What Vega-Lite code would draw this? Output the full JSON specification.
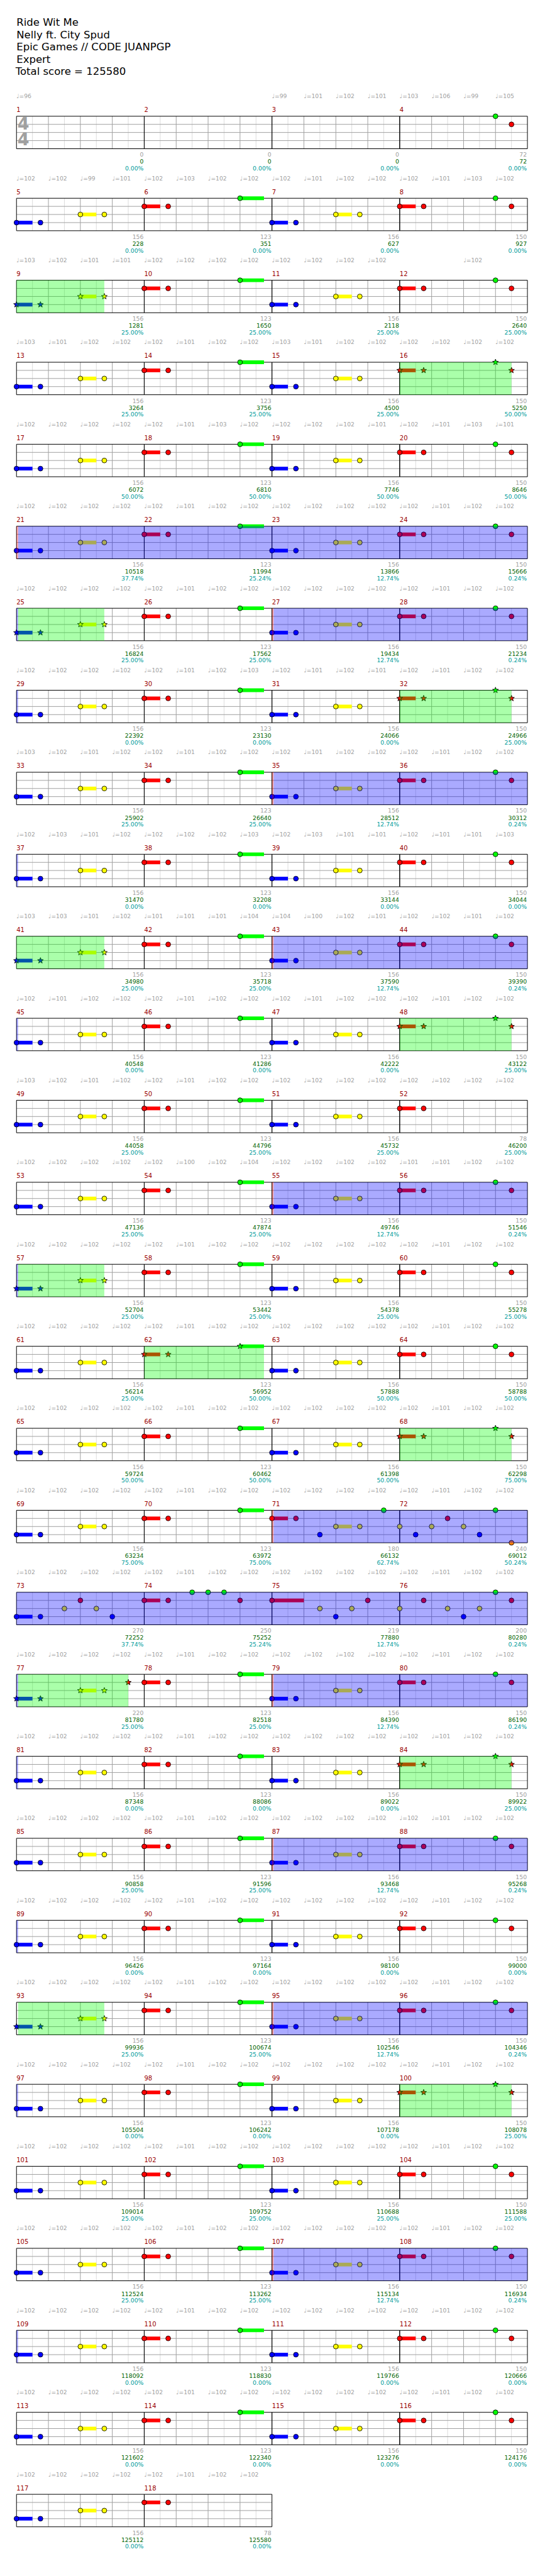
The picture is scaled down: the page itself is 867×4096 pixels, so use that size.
{
"$schema":"https://vega.github.io/schema/vega-lite/v6.json",
"autosize":{"type":"none"},
"padding":{"left":26.247,"top":184.83,"right":27.94,"bottom":78.24},
"width":812.813,
"height":3832.93,
"background":"white",
"config":{"view":{"stroke":null},"font":"DejaVu Sans"},
"data":{"values":[
{"row":1,"k":"title","b":0,"ln":0,"t":"Ride Wit Me"},
{"row":1,"k":"title","b":0,"ln":1,"t":"Nelly ft. City Spud"},
{"row":1,"k":"title","b":0,"ln":2,"t":"Epic Games // CODE JUANPGP"},
{"row":1,"k":"title","b":0,"ln":3,"t":"Expert"},
{"row":1,"k":"title","b":0,"ln":4,"t":"Total score = 125580"},
{"row":1,"k":"ts","b":0,"t":"4"},
{"row":1,"k":"m","b":0,"e":4,"n":"1","s1":"0","s2":"0","s3":"0.00%"},
{"row":1,"k":"m","b":4,"e":8,"n":"2","s1":"0","s2":"0","s3":"0.00%"},
{"row":1,"k":"m","b":8,"e":12,"n":"3","s1":"0","s2":"0","s3":"0.00%"},
{"row":1,"k":"m","b":12,"e":16,"n":"4","s1":"72","s2":"72","s3":"0.00%"},
{"row":2,"k":"m","b":0,"e":4,"n":"5","s1":"156","s2":"228","s3":"0.00%"},
{"row":2,"k":"m","b":4,"e":8,"n":"6","s1":"123","s2":"351","s3":"0.00%"},
{"row":2,"k":"m","b":8,"e":12,"n":"7","s1":"156","s2":"627","s3":"0.00%"},
{"row":2,"k":"m","b":12,"e":16,"n":"8","s1":"150","s2":"927","s3":"0.00%"},
{"row":3,"k":"m","b":0,"e":4,"n":"9","s1":"156","s2":"1281","s3":"25.00%"},
{"row":3,"k":"m","b":4,"e":8,"n":"10","s1":"123","s2":"1650","s3":"25.00%"},
{"row":3,"k":"m","b":8,"e":12,"n":"11","s1":"156","s2":"2118","s3":"25.00%"},
{"row":3,"k":"m","b":12,"e":16,"n":"12","s1":"150","s2":"2640","s3":"25.00%"},
{"row":4,"k":"m","b":0,"e":4,"n":"13","s1":"156","s2":"3264","s3":"25.00%"},
{"row":4,"k":"m","b":4,"e":8,"n":"14","s1":"123","s2":"3756","s3":"25.00%"},
{"row":4,"k":"m","b":8,"e":12,"n":"15","s1":"156","s2":"4500","s3":"25.00%"},
{"row":4,"k":"m","b":12,"e":16,"n":"16","s1":"150","s2":"5250","s3":"50.00%"},
{"row":5,"k":"m","b":0,"e":4,"n":"17","s1":"156","s2":"6072","s3":"50.00%"},
{"row":5,"k":"m","b":4,"e":8,"n":"18","s1":"123","s2":"6810","s3":"50.00%"},
{"row":5,"k":"m","b":8,"e":12,"n":"19","s1":"156","s2":"7746","s3":"50.00%"},
{"row":5,"k":"m","b":12,"e":16,"n":"20","s1":"150","s2":"8646","s3":"50.00%"},
{"row":6,"k":"m","b":0,"e":4,"n":"21","s1":"156","s2":"10518","s3":"37.74%"},
{"row":6,"k":"m","b":4,"e":8,"n":"22","s1":"123","s2":"11994","s3":"25.24%"},
{"row":6,"k":"m","b":8,"e":12,"n":"23","s1":"156","s2":"13866","s3":"12.74%"},
{"row":6,"k":"m","b":12,"e":16,"n":"24","s1":"150","s2":"15666","s3":"0.24%"},
{"row":7,"k":"m","b":0,"e":4,"n":"25","s1":"156","s2":"16824","s3":"25.00%"},
{"row":7,"k":"m","b":4,"e":8,"n":"26","s1":"123","s2":"17562","s3":"25.00%"},
{"row":7,"k":"m","b":8,"e":12,"n":"27","s1":"156","s2":"19434","s3":"12.74%"},
{"row":7,"k":"m","b":12,"e":16,"n":"28","s1":"150","s2":"21234","s3":"0.24%"},
{"row":8,"k":"m","b":0,"e":4,"n":"29","s1":"156","s2":"22392","s3":"0.00%"},
{"row":8,"k":"m","b":4,"e":8,"n":"30","s1":"123","s2":"23130","s3":"0.00%"},
{"row":8,"k":"m","b":8,"e":12,"n":"31","s1":"156","s2":"24066","s3":"0.00%"},
{"row":8,"k":"m","b":12,"e":16,"n":"32","s1":"150","s2":"24966","s3":"25.00%"},
{"row":9,"k":"m","b":0,"e":4,"n":"33","s1":"156","s2":"25902","s3":"25.00%"},
{"row":9,"k":"m","b":4,"e":8,"n":"34","s1":"123","s2":"26640","s3":"25.00%"},
{"row":9,"k":"m","b":8,"e":12,"n":"35","s1":"156","s2":"28512","s3":"12.74%"},
{"row":9,"k":"m","b":12,"e":16,"n":"36","s1":"150","s2":"30312","s3":"0.24%"},
{"row":10,"k":"m","b":0,"e":4,"n":"37","s1":"156","s2":"31470","s3":"0.00%"},
{"row":10,"k":"m","b":4,"e":8,"n":"38","s1":"123","s2":"32208","s3":"0.00%"},
{"row":10,"k":"m","b":8,"e":12,"n":"39","s1":"156","s2":"33144","s3":"0.00%"},
{"row":10,"k":"m","b":12,"e":16,"n":"40","s1":"150","s2":"34044","s3":"0.00%"},
{"row":11,"k":"m","b":0,"e":4,"n":"41","s1":"156","s2":"34980","s3":"25.00%"},
{"row":11,"k":"m","b":4,"e":8,"n":"42","s1":"123","s2":"35718","s3":"25.00%"},
{"row":11,"k":"m","b":8,"e":12,"n":"43","s1":"156","s2":"37590","s3":"12.74%"},
{"row":11,"k":"m","b":12,"e":16,"n":"44","s1":"150","s2":"39390","s3":"0.24%"},
{"row":12,"k":"m","b":0,"e":4,"n":"45","s1":"156","s2":"40548","s3":"0.00%"},
{"row":12,"k":"m","b":4,"e":8,"n":"46","s1":"123","s2":"41286","s3":"0.00%"},
{"row":12,"k":"m","b":8,"e":12,"n":"47","s1":"156","s2":"42222","s3":"0.00%"},
{"row":12,"k":"m","b":12,"e":16,"n":"48","s1":"150","s2":"43122","s3":"25.00%"},
{"row":13,"k":"m","b":0,"e":4,"n":"49","s1":"156","s2":"44058","s3":"25.00%"},
{"row":13,"k":"m","b":4,"e":8,"n":"50","s1":"123","s2":"44796","s3":"25.00%"},
{"row":13,"k":"m","b":8,"e":12,"n":"51","s1":"156","s2":"45732","s3":"25.00%"},
{"row":13,"k":"m","b":12,"e":16,"n":"52","s1":"78","s2":"46200","s3":"25.00%"},
{"row":14,"k":"m","b":0,"e":4,"n":"53","s1":"156","s2":"47136","s3":"25.00%"},
{"row":14,"k":"m","b":4,"e":8,"n":"54","s1":"123","s2":"47874","s3":"25.00%"},
{"row":14,"k":"m","b":8,"e":12,"n":"55","s1":"156","s2":"49746","s3":"12.74%"},
{"row":14,"k":"m","b":12,"e":16,"n":"56","s1":"150","s2":"51546","s3":"0.24%"},
{"row":15,"k":"m","b":0,"e":4,"n":"57","s1":"156","s2":"52704","s3":"25.00%"},
{"row":15,"k":"m","b":4,"e":8,"n":"58","s1":"123","s2":"53442","s3":"25.00%"},
{"row":15,"k":"m","b":8,"e":12,"n":"59","s1":"156","s2":"54378","s3":"25.00%"},
{"row":15,"k":"m","b":12,"e":16,"n":"60","s1":"150","s2":"55278","s3":"25.00%"},
{"row":16,"k":"m","b":0,"e":4,"n":"61","s1":"156","s2":"56214","s3":"25.00%"},
{"row":16,"k":"m","b":4,"e":8,"n":"62","s1":"123","s2":"56952","s3":"50.00%"},
{"row":16,"k":"m","b":8,"e":12,"n":"63","s1":"156","s2":"57888","s3":"50.00%"},
{"row":16,"k":"m","b":12,"e":16,"n":"64","s1":"150","s2":"58788","s3":"50.00%"},
{"row":17,"k":"m","b":0,"e":4,"n":"65","s1":"156","s2":"59724","s3":"50.00%"},
{"row":17,"k":"m","b":4,"e":8,"n":"66","s1":"123","s2":"60462","s3":"50.00%"},
{"row":17,"k":"m","b":8,"e":12,"n":"67","s1":"156","s2":"61398","s3":"50.00%"},
{"row":17,"k":"m","b":12,"e":16,"n":"68","s1":"150","s2":"62298","s3":"75.00%"},
{"row":18,"k":"m","b":0,"e":4,"n":"69","s1":"156","s2":"63234","s3":"75.00%"},
{"row":18,"k":"m","b":4,"e":8,"n":"70","s1":"123","s2":"63972","s3":"75.00%"},
{"row":18,"k":"m","b":8,"e":12,"n":"71","s1":"180","s2":"66132","s3":"62.74%"},
{"row":18,"k":"m","b":12,"e":16,"n":"72","s1":"240","s2":"69012","s3":"50.24%"},
{"row":19,"k":"m","b":0,"e":4,"n":"73","s1":"270","s2":"72252","s3":"37.74%"},
{"row":19,"k":"m","b":4,"e":8,"n":"74","s1":"250","s2":"75252","s3":"25.24%"},
{"row":19,"k":"m","b":8,"e":12,"n":"75","s1":"219","s2":"77880","s3":"12.74%"},
{"row":19,"k":"m","b":12,"e":16,"n":"76","s1":"200","s2":"80280","s3":"0.24%"},
{"row":20,"k":"m","b":0,"e":4,"n":"77","s1":"220","s2":"81780","s3":"25.00%"},
{"row":20,"k":"m","b":4,"e":8,"n":"78","s1":"123","s2":"82518","s3":"25.00%"},
{"row":20,"k":"m","b":8,"e":12,"n":"79","s1":"156","s2":"84390","s3":"12.74%"},
{"row":20,"k":"m","b":12,"e":16,"n":"80","s1":"150","s2":"86190","s3":"0.24%"},
{"row":21,"k":"m","b":0,"e":4,"n":"81","s1":"156","s2":"87348","s3":"0.00%"},
{"row":21,"k":"m","b":4,"e":8,"n":"82","s1":"123","s2":"88086","s3":"0.00%"},
{"row":21,"k":"m","b":8,"e":12,"n":"83","s1":"156","s2":"89022","s3":"0.00%"},
{"row":21,"k":"m","b":12,"e":16,"n":"84","s1":"150","s2":"89922","s3":"25.00%"},
{"row":22,"k":"m","b":0,"e":4,"n":"85","s1":"156","s2":"90858","s3":"25.00%"},
{"row":22,"k":"m","b":4,"e":8,"n":"86","s1":"123","s2":"91596","s3":"25.00%"},
{"row":22,"k":"m","b":8,"e":12,"n":"87","s1":"156","s2":"93468","s3":"12.74%"},
{"row":22,"k":"m","b":12,"e":16,"n":"88","s1":"150","s2":"95268","s3":"0.24%"},
{"row":23,"k":"m","b":0,"e":4,"n":"89","s1":"156","s2":"96426","s3":"0.00%"},
{"row":23,"k":"m","b":4,"e":8,"n":"90","s1":"123","s2":"97164","s3":"0.00%"},
{"row":23,"k":"m","b":8,"e":12,"n":"91","s1":"156","s2":"98100","s3":"0.00%"},
{"row":23,"k":"m","b":12,"e":16,"n":"92","s1":"150","s2":"99000","s3":"0.00%"},
{"row":24,"k":"m","b":0,"e":4,"n":"93","s1":"156","s2":"99936","s3":"25.00%"},
{"row":24,"k":"m","b":4,"e":8,"n":"94","s1":"123","s2":"100674","s3":"25.00%"},
{"row":24,"k":"m","b":8,"e":12,"n":"95","s1":"156","s2":"102546","s3":"12.74%"},
{"row":24,"k":"m","b":12,"e":16,"n":"96","s1":"150","s2":"104346","s3":"0.24%"},
{"row":25,"k":"m","b":0,"e":4,"n":"97","s1":"156","s2":"105504","s3":"0.00%"},
{"row":25,"k":"m","b":4,"e":8,"n":"98","s1":"123","s2":"106242","s3":"0.00%"},
{"row":25,"k":"m","b":8,"e":12,"n":"99","s1":"156","s2":"107178","s3":"0.00%"},
{"row":25,"k":"m","b":12,"e":16,"n":"100","s1":"150","s2":"108078","s3":"25.00%"},
{"row":26,"k":"m","b":0,"e":4,"n":"101","s1":"156","s2":"109014","s3":"25.00%"},
{"row":26,"k":"m","b":4,"e":8,"n":"102","s1":"123","s2":"109752","s3":"25.00%"},
{"row":26,"k":"m","b":8,"e":12,"n":"103","s1":"156","s2":"110688","s3":"25.00%"},
{"row":26,"k":"m","b":12,"e":16,"n":"104","s1":"150","s2":"111588","s3":"25.00%"},
{"row":27,"k":"m","b":0,"e":4,"n":"105","s1":"156","s2":"112524","s3":"25.00%"},
{"row":27,"k":"m","b":4,"e":8,"n":"106","s1":"123","s2":"113262","s3":"25.00%"},
{"row":27,"k":"m","b":8,"e":12,"n":"107","s1":"156","s2":"115134","s3":"12.74%"},
{"row":27,"k":"m","b":12,"e":16,"n":"108","s1":"150","s2":"116934","s3":"0.24%"},
{"row":28,"k":"m","b":0,"e":4,"n":"109","s1":"156","s2":"118092","s3":"0.00%"},
{"row":28,"k":"m","b":4,"e":8,"n":"110","s1":"123","s2":"118830","s3":"0.00%"},
{"row":28,"k":"m","b":8,"e":12,"n":"111","s1":"156","s2":"119766","s3":"0.00%"},
{"row":28,"k":"m","b":12,"e":16,"n":"112","s1":"150","s2":"120666","s3":"0.00%"},
{"row":29,"k":"m","b":0,"e":4,"n":"113","s1":"156","s2":"121602","s3":"0.00%"},
{"row":29,"k":"m","b":4,"e":8,"n":"114","s1":"123","s2":"122340","s3":"0.00%"},
{"row":29,"k":"m","b":8,"e":12,"n":"115","s1":"156","s2":"123276","s3":"0.00%"},
{"row":29,"k":"m","b":12,"e":16,"n":"116","s1":"150","s2":"124176","s3":"0.00%"},
{"row":30,"k":"m","b":0,"e":4,"n":"117","s1":"156","s2":"125112","s3":"0.00%"},
{"row":30,"k":"m","b":4,"e":8,"n":"118","s1":"78","s2":"125580","s3":"0.00%"},
{"row":1,"k":"tp","b":0,"t":"♩=96"},{"row":1,"k":"tp","b":8,"t":"♩=99"},{"row":1,"k":"tp","b":9,"t":"♩=101"},{"row":1,"k":"tp","b":10,"t":"♩=102"},{"row":1,"k":"tp","b":11,"t":"♩=101"},{"row":1,"k":"tp","b":12,"t":"♩=103"},{"row":1,"k":"tp","b":13,"t":"♩=106"},{"row":1,"k":"tp","b":14,"t":"♩=99"},{"row":1,"k":"tp","b":15,"t":"♩=105"},
{"row":2,"k":"tp","b":0,"t":"♩=102"},{"row":2,"k":"tp","b":1,"t":"♩=102"},{"row":2,"k":"tp","b":2,"t":"♩=99"},{"row":2,"k":"tp","b":3,"t":"♩=101"},{"row":2,"k":"tp","b":4,"t":"♩=102"},{"row":2,"k":"tp","b":5,"t":"♩=103"},{"row":2,"k":"tp","b":6,"t":"♩=102"},{"row":2,"k":"tp","b":7,"t":"♩=102"},{"row":2,"k":"tp","b":8,"t":"♩=102"},{"row":2,"k":"tp","b":9,"t":"♩=101"},{"row":2,"k":"tp","b":10,"t":"♩=102"},{"row":2,"k":"tp","b":11,"t":"♩=102"},{"row":2,"k":"tp","b":12,"t":"♩=102"},{"row":2,"k":"tp","b":13,"t":"♩=101"},{"row":2,"k":"tp","b":14,"t":"♩=103"},{"row":2,"k":"tp","b":15,"t":"♩=102"},
{"row":3,"k":"tp","b":0,"t":"♩=103"},{"row":3,"k":"tp","b":1,"t":"♩=102"},{"row":3,"k":"tp","b":2,"t":"♩=101"},{"row":3,"k":"tp","b":3,"t":"♩=101"},{"row":3,"k":"tp","b":4,"t":"♩=102"},{"row":3,"k":"tp","b":5,"t":"♩=102"},{"row":3,"k":"tp","b":6,"t":"♩=102"},{"row":3,"k":"tp","b":7,"t":"♩=102"},{"row":3,"k":"tp","b":8,"t":"♩=102"},{"row":3,"k":"tp","b":9,"t":"♩=102"},{"row":3,"k":"tp","b":10,"t":"♩=102"},{"row":3,"k":"tp","b":11,"t":"♩=102"},{"row":3,"k":"tp","b":14,"t":"♩=102"},
{"row":4,"k":"tp","b":0,"t":"♩=103"},{"row":4,"k":"tp","b":1,"t":"♩=101"},{"row":4,"k":"tp","b":2,"t":"♩=102"},{"row":4,"k":"tp","b":3,"t":"♩=102"},{"row":4,"k":"tp","b":4,"t":"♩=102"},{"row":4,"k":"tp","b":5,"t":"♩=101"},{"row":4,"k":"tp","b":6,"t":"♩=102"},{"row":4,"k":"tp","b":7,"t":"♩=102"},{"row":4,"k":"tp","b":8,"t":"♩=103"},{"row":4,"k":"tp","b":9,"t":"♩=101"},{"row":4,"k":"tp","b":10,"t":"♩=102"},{"row":4,"k":"tp","b":11,"t":"♩=102"},{"row":4,"k":"tp","b":12,"t":"♩=102"},{"row":4,"k":"tp","b":13,"t":"♩=102"},{"row":4,"k":"tp","b":14,"t":"♩=102"},{"row":4,"k":"tp","b":15,"t":"♩=102"},
{"row":5,"k":"tp","b":0,"t":"♩=102"},{"row":5,"k":"tp","b":1,"t":"♩=102"},{"row":5,"k":"tp","b":2,"t":"♩=102"},{"row":5,"k":"tp","b":3,"t":"♩=102"},{"row":5,"k":"tp","b":4,"t":"♩=102"},{"row":5,"k":"tp","b":5,"t":"♩=101"},{"row":5,"k":"tp","b":6,"t":"♩=103"},{"row":5,"k":"tp","b":7,"t":"♩=102"},{"row":5,"k":"tp","b":8,"t":"♩=102"},{"row":5,"k":"tp","b":9,"t":"♩=102"},{"row":5,"k":"tp","b":10,"t":"♩=102"},{"row":5,"k":"tp","b":11,"t":"♩=101"},{"row":5,"k":"tp","b":12,"t":"♩=102"},{"row":5,"k":"tp","b":13,"t":"♩=101"},{"row":5,"k":"tp","b":14,"t":"♩=103"},{"row":5,"k":"tp","b":15,"t":"♩=101"},
{"row":6,"k":"tp","b":0,"t":"♩=102"},{"row":6,"k":"tp","b":1,"t":"♩=102"},{"row":6,"k":"tp","b":2,"t":"♩=102"},{"row":6,"k":"tp","b":3,"t":"♩=102"},{"row":6,"k":"tp","b":4,"t":"♩=102"},{"row":6,"k":"tp","b":5,"t":"♩=101"},{"row":6,"k":"tp","b":6,"t":"♩=102"},{"row":6,"k":"tp","b":7,"t":"♩=102"},{"row":6,"k":"tp","b":8,"t":"♩=102"},{"row":6,"k":"tp","b":9,"t":"♩=102"},{"row":6,"k":"tp","b":10,"t":"♩=102"},{"row":6,"k":"tp","b":11,"t":"♩=102"},{"row":6,"k":"tp","b":12,"t":"♩=102"},{"row":6,"k":"tp","b":13,"t":"♩=101"},{"row":6,"k":"tp","b":14,"t":"♩=102"},{"row":6,"k":"tp","b":15,"t":"♩=102"},
{"row":7,"k":"tp","b":0,"t":"♩=102"},{"row":7,"k":"tp","b":1,"t":"♩=102"},{"row":7,"k":"tp","b":2,"t":"♩=102"},{"row":7,"k":"tp","b":3,"t":"♩=102"},{"row":7,"k":"tp","b":4,"t":"♩=102"},{"row":7,"k":"tp","b":5,"t":"♩=101"},{"row":7,"k":"tp","b":6,"t":"♩=102"},{"row":7,"k":"tp","b":7,"t":"♩=102"},{"row":7,"k":"tp","b":8,"t":"♩=102"},{"row":7,"k":"tp","b":9,"t":"♩=102"},{"row":7,"k":"tp","b":10,"t":"♩=102"},{"row":7,"k":"tp","b":11,"t":"♩=102"},{"row":7,"k":"tp","b":12,"t":"♩=102"},{"row":7,"k":"tp","b":13,"t":"♩=101"},{"row":7,"k":"tp","b":14,"t":"♩=102"},{"row":7,"k":"tp","b":15,"t":"♩=102"},
{"row":8,"k":"tp","b":0,"t":"♩=102"},{"row":8,"k":"tp","b":1,"t":"♩=102"},{"row":8,"k":"tp","b":2,"t":"♩=102"},{"row":8,"k":"tp","b":3,"t":"♩=102"},{"row":8,"k":"tp","b":4,"t":"♩=102"},{"row":8,"k":"tp","b":5,"t":"♩=101"},{"row":8,"k":"tp","b":6,"t":"♩=102"},{"row":8,"k":"tp","b":7,"t":"♩=103"},{"row":8,"k":"tp","b":8,"t":"♩=102"},{"row":8,"k":"tp","b":9,"t":"♩=101"},{"row":8,"k":"tp","b":10,"t":"♩=102"},{"row":8,"k":"tp","b":11,"t":"♩=101"},{"row":8,"k":"tp","b":12,"t":"♩=102"},{"row":8,"k":"tp","b":13,"t":"♩=101"},{"row":8,"k":"tp","b":14,"t":"♩=102"},{"row":8,"k":"tp","b":15,"t":"♩=102"},
{"row":9,"k":"tp","b":0,"t":"♩=103"},{"row":9,"k":"tp","b":1,"t":"♩=102"},{"row":9,"k":"tp","b":2,"t":"♩=101"},{"row":9,"k":"tp","b":3,"t":"♩=102"},{"row":9,"k":"tp","b":4,"t":"♩=102"},{"row":9,"k":"tp","b":5,"t":"♩=101"},{"row":9,"k":"tp","b":6,"t":"♩=102"},{"row":9,"k":"tp","b":7,"t":"♩=102"},{"row":9,"k":"tp","b":8,"t":"♩=102"},{"row":9,"k":"tp","b":9,"t":"♩=101"},{"row":9,"k":"tp","b":10,"t":"♩=102"},{"row":9,"k":"tp","b":11,"t":"♩=102"},{"row":9,"k":"tp","b":12,"t":"♩=102"},{"row":9,"k":"tp","b":13,"t":"♩=101"},{"row":9,"k":"tp","b":14,"t":"♩=102"},{"row":9,"k":"tp","b":15,"t":"♩=102"},
{"row":10,"k":"tp","b":0,"t":"♩=102"},{"row":10,"k":"tp","b":1,"t":"♩=103"},{"row":10,"k":"tp","b":2,"t":"♩=101"},{"row":10,"k":"tp","b":3,"t":"♩=102"},{"row":10,"k":"tp","b":4,"t":"♩=102"},{"row":10,"k":"tp","b":5,"t":"♩=102"},{"row":10,"k":"tp","b":6,"t":"♩=102"},{"row":10,"k":"tp","b":7,"t":"♩=103"},{"row":10,"k":"tp","b":8,"t":"♩=102"},{"row":10,"k":"tp","b":9,"t":"♩=103"},{"row":10,"k":"tp","b":10,"t":"♩=101"},{"row":10,"k":"tp","b":11,"t":"♩=101"},{"row":10,"k":"tp","b":12,"t":"♩=102"},{"row":10,"k":"tp","b":13,"t":"♩=101"},{"row":10,"k":"tp","b":14,"t":"♩=101"},{"row":10,"k":"tp","b":15,"t":"♩=103"},
{"row":11,"k":"tp","b":0,"t":"♩=103"},{"row":11,"k":"tp","b":1,"t":"♩=103"},{"row":11,"k":"tp","b":2,"t":"♩=101"},{"row":11,"k":"tp","b":3,"t":"♩=102"},{"row":11,"k":"tp","b":4,"t":"♩=101"},{"row":11,"k":"tp","b":5,"t":"♩=101"},{"row":11,"k":"tp","b":6,"t":"♩=101"},{"row":11,"k":"tp","b":7,"t":"♩=104"},{"row":11,"k":"tp","b":8,"t":"♩=104"},{"row":11,"k":"tp","b":9,"t":"♩=100"},{"row":11,"k":"tp","b":10,"t":"♩=102"},{"row":11,"k":"tp","b":11,"t":"♩=101"},{"row":11,"k":"tp","b":12,"t":"♩=102"},{"row":11,"k":"tp","b":13,"t":"♩=102"},{"row":11,"k":"tp","b":14,"t":"♩=101"},{"row":11,"k":"tp","b":15,"t":"♩=102"},
{"row":12,"k":"tp","b":0,"t":"♩=102"},{"row":12,"k":"tp","b":1,"t":"♩=101"},{"row":12,"k":"tp","b":2,"t":"♩=102"},{"row":12,"k":"tp","b":3,"t":"♩=102"},{"row":12,"k":"tp","b":4,"t":"♩=102"},{"row":12,"k":"tp","b":5,"t":"♩=101"},{"row":12,"k":"tp","b":6,"t":"♩=102"},{"row":12,"k":"tp","b":7,"t":"♩=102"},{"row":12,"k":"tp","b":8,"t":"♩=102"},{"row":12,"k":"tp","b":9,"t":"♩=101"},{"row":12,"k":"tp","b":10,"t":"♩=102"},{"row":12,"k":"tp","b":11,"t":"♩=102"},{"row":12,"k":"tp","b":12,"t":"♩=102"},{"row":12,"k":"tp","b":13,"t":"♩=101"},{"row":12,"k":"tp","b":14,"t":"♩=102"},{"row":12,"k":"tp","b":15,"t":"♩=102"},
{"row":13,"k":"tp","b":0,"t":"♩=103"},{"row":13,"k":"tp","b":1,"t":"♩=102"},{"row":13,"k":"tp","b":2,"t":"♩=101"},{"row":13,"k":"tp","b":3,"t":"♩=102"},{"row":13,"k":"tp","b":4,"t":"♩=102"},{"row":13,"k":"tp","b":5,"t":"♩=101"},{"row":13,"k":"tp","b":6,"t":"♩=102"},{"row":13,"k":"tp","b":7,"t":"♩=102"},{"row":13,"k":"tp","b":8,"t":"♩=102"},{"row":13,"k":"tp","b":9,"t":"♩=102"},{"row":13,"k":"tp","b":10,"t":"♩=102"},{"row":13,"k":"tp","b":11,"t":"♩=102"},{"row":13,"k":"tp","b":12,"t":"♩=102"},{"row":13,"k":"tp","b":13,"t":"♩=102"},{"row":13,"k":"tp","b":14,"t":"♩=102"},{"row":13,"k":"tp","b":15,"t":"♩=102"},
{"row":14,"k":"tp","b":0,"t":"♩=102"},{"row":14,"k":"tp","b":1,"t":"♩=102"},{"row":14,"k":"tp","b":2,"t":"♩=102"},{"row":14,"k":"tp","b":3,"t":"♩=102"},{"row":14,"k":"tp","b":4,"t":"♩=102"},{"row":14,"k":"tp","b":5,"t":"♩=100"},{"row":14,"k":"tp","b":6,"t":"♩=102"},{"row":14,"k":"tp","b":7,"t":"♩=104"},{"row":14,"k":"tp","b":8,"t":"♩=102"},{"row":14,"k":"tp","b":9,"t":"♩=102"},{"row":14,"k":"tp","b":10,"t":"♩=102"},{"row":14,"k":"tp","b":11,"t":"♩=102"},{"row":14,"k":"tp","b":12,"t":"♩=101"},{"row":14,"k":"tp","b":13,"t":"♩=101"},{"row":14,"k":"tp","b":14,"t":"♩=102"},{"row":14,"k":"tp","b":15,"t":"♩=102"},
{"row":15,"k":"tp","b":0,"t":"♩=102"},{"row":15,"k":"tp","b":1,"t":"♩=102"},{"row":15,"k":"tp","b":2,"t":"♩=102"},{"row":15,"k":"tp","b":3,"t":"♩=102"},{"row":15,"k":"tp","b":4,"t":"♩=102"},{"row":15,"k":"tp","b":5,"t":"♩=101"},{"row":15,"k":"tp","b":6,"t":"♩=102"},{"row":15,"k":"tp","b":7,"t":"♩=102"},{"row":15,"k":"tp","b":8,"t":"♩=102"},{"row":15,"k":"tp","b":9,"t":"♩=102"},{"row":15,"k":"tp","b":10,"t":"♩=102"},{"row":15,"k":"tp","b":11,"t":"♩=102"},{"row":15,"k":"tp","b":12,"t":"♩=102"},{"row":15,"k":"tp","b":13,"t":"♩=101"},{"row":15,"k":"tp","b":14,"t":"♩=102"},{"row":15,"k":"tp","b":15,"t":"♩=102"},
{"row":16,"k":"tp","b":0,"t":"♩=102"},{"row":16,"k":"tp","b":1,"t":"♩=102"},{"row":16,"k":"tp","b":2,"t":"♩=102"},{"row":16,"k":"tp","b":3,"t":"♩=102"},{"row":16,"k":"tp","b":4,"t":"♩=102"},{"row":16,"k":"tp","b":5,"t":"♩=101"},{"row":16,"k":"tp","b":6,"t":"♩=102"},{"row":16,"k":"tp","b":7,"t":"♩=102"},{"row":16,"k":"tp","b":8,"t":"♩=102"},{"row":16,"k":"tp","b":9,"t":"♩=102"},{"row":16,"k":"tp","b":10,"t":"♩=102"},{"row":16,"k":"tp","b":11,"t":"♩=102"},{"row":16,"k":"tp","b":12,"t":"♩=102"},{"row":16,"k":"tp","b":13,"t":"♩=101"},{"row":16,"k":"tp","b":14,"t":"♩=102"},{"row":16,"k":"tp","b":15,"t":"♩=102"},
{"row":17,"k":"tp","b":0,"t":"♩=102"},{"row":17,"k":"tp","b":1,"t":"♩=102"},{"row":17,"k":"tp","b":2,"t":"♩=102"},{"row":17,"k":"tp","b":3,"t":"♩=102"},{"row":17,"k":"tp","b":4,"t":"♩=102"},{"row":17,"k":"tp","b":5,"t":"♩=101"},{"row":17,"k":"tp","b":6,"t":"♩=102"},{"row":17,"k":"tp","b":7,"t":"♩=102"},{"row":17,"k":"tp","b":8,"t":"♩=102"},{"row":17,"k":"tp","b":9,"t":"♩=102"},{"row":17,"k":"tp","b":10,"t":"♩=102"},{"row":17,"k":"tp","b":11,"t":"♩=102"},{"row":17,"k":"tp","b":12,"t":"♩=102"},{"row":17,"k":"tp","b":13,"t":"♩=101"},{"row":17,"k":"tp","b":14,"t":"♩=102"},{"row":17,"k":"tp","b":15,"t":"♩=102"},
{"row":18,"k":"tp","b":0,"t":"♩=102"},{"row":18,"k":"tp","b":1,"t":"♩=102"},{"row":18,"k":"tp","b":2,"t":"♩=102"},{"row":18,"k":"tp","b":3,"t":"♩=102"},{"row":18,"k":"tp","b":4,"t":"♩=102"},{"row":18,"k":"tp","b":5,"t":"♩=101"},{"row":18,"k":"tp","b":6,"t":"♩=102"},{"row":18,"k":"tp","b":7,"t":"♩=102"},{"row":18,"k":"tp","b":8,"t":"♩=102"},{"row":18,"k":"tp","b":9,"t":"♩=102"},{"row":18,"k":"tp","b":10,"t":"♩=102"},{"row":18,"k":"tp","b":11,"t":"♩=102"},{"row":18,"k":"tp","b":12,"t":"♩=102"},{"row":18,"k":"tp","b":13,"t":"♩=101"},{"row":18,"k":"tp","b":14,"t":"♩=102"},{"row":18,"k":"tp","b":15,"t":"♩=102"},
{"row":19,"k":"tp","b":0,"t":"♩=102"},{"row":19,"k":"tp","b":1,"t":"♩=102"},{"row":19,"k":"tp","b":2,"t":"♩=102"},{"row":19,"k":"tp","b":3,"t":"♩=102"},{"row":19,"k":"tp","b":4,"t":"♩=102"},{"row":19,"k":"tp","b":5,"t":"♩=101"},{"row":19,"k":"tp","b":6,"t":"♩=102"},{"row":19,"k":"tp","b":7,"t":"♩=102"},{"row":19,"k":"tp","b":8,"t":"♩=102"},{"row":19,"k":"tp","b":9,"t":"♩=102"},{"row":19,"k":"tp","b":10,"t":"♩=102"},{"row":19,"k":"tp","b":11,"t":"♩=102"},{"row":19,"k":"tp","b":12,"t":"♩=102"},{"row":19,"k":"tp","b":13,"t":"♩=101"},{"row":19,"k":"tp","b":14,"t":"♩=102"},{"row":19,"k":"tp","b":15,"t":"♩=102"},
{"row":20,"k":"tp","b":0,"t":"♩=102"},{"row":20,"k":"tp","b":1,"t":"♩=102"},{"row":20,"k":"tp","b":2,"t":"♩=102"},{"row":20,"k":"tp","b":3,"t":"♩=102"},{"row":20,"k":"tp","b":4,"t":"♩=102"},{"row":20,"k":"tp","b":5,"t":"♩=101"},{"row":20,"k":"tp","b":6,"t":"♩=102"},{"row":20,"k":"tp","b":7,"t":"♩=102"},{"row":20,"k":"tp","b":8,"t":"♩=102"},{"row":20,"k":"tp","b":9,"t":"♩=102"},{"row":20,"k":"tp","b":10,"t":"♩=102"},{"row":20,"k":"tp","b":11,"t":"♩=102"},{"row":20,"k":"tp","b":12,"t":"♩=102"},{"row":20,"k":"tp","b":13,"t":"♩=101"},{"row":20,"k":"tp","b":14,"t":"♩=102"},{"row":20,"k":"tp","b":15,"t":"♩=102"},
{"row":21,"k":"tp","b":0,"t":"♩=102"},{"row":21,"k":"tp","b":1,"t":"♩=102"},{"row":21,"k":"tp","b":2,"t":"♩=102"},{"row":21,"k":"tp","b":3,"t":"♩=102"},{"row":21,"k":"tp","b":4,"t":"♩=102"},{"row":21,"k":"tp","b":5,"t":"♩=101"},{"row":21,"k":"tp","b":6,"t":"♩=102"},{"row":21,"k":"tp","b":7,"t":"♩=102"},{"row":21,"k":"tp","b":8,"t":"♩=102"},{"row":21,"k":"tp","b":9,"t":"♩=102"},{"row":21,"k":"tp","b":10,"t":"♩=102"},{"row":21,"k":"tp","b":11,"t":"♩=102"},{"row":21,"k":"tp","b":12,"t":"♩=102"},{"row":21,"k":"tp","b":13,"t":"♩=101"},{"row":21,"k":"tp","b":14,"t":"♩=102"},{"row":21,"k":"tp","b":15,"t":"♩=102"},
{"row":22,"k":"tp","b":0,"t":"♩=102"},{"row":22,"k":"tp","b":1,"t":"♩=102"},{"row":22,"k":"tp","b":2,"t":"♩=102"},{"row":22,"k":"tp","b":3,"t":"♩=102"},{"row":22,"k":"tp","b":4,"t":"♩=102"},{"row":22,"k":"tp","b":5,"t":"♩=101"},{"row":22,"k":"tp","b":6,"t":"♩=102"},{"row":22,"k":"tp","b":7,"t":"♩=102"},{"row":22,"k":"tp","b":8,"t":"♩=102"},{"row":22,"k":"tp","b":9,"t":"♩=102"},{"row":22,"k":"tp","b":10,"t":"♩=102"},{"row":22,"k":"tp","b":11,"t":"♩=102"},{"row":22,"k":"tp","b":12,"t":"♩=102"},{"row":22,"k":"tp","b":13,"t":"♩=101"},{"row":22,"k":"tp","b":14,"t":"♩=102"},{"row":22,"k":"tp","b":15,"t":"♩=102"},
{"row":23,"k":"tp","b":0,"t":"♩=102"},{"row":23,"k":"tp","b":1,"t":"♩=102"},{"row":23,"k":"tp","b":2,"t":"♩=102"},{"row":23,"k":"tp","b":3,"t":"♩=102"},{"row":23,"k":"tp","b":4,"t":"♩=102"},{"row":23,"k":"tp","b":5,"t":"♩=101"},{"row":23,"k":"tp","b":6,"t":"♩=102"},{"row":23,"k":"tp","b":7,"t":"♩=102"},{"row":23,"k":"tp","b":8,"t":"♩=102"},{"row":23,"k":"tp","b":9,"t":"♩=102"},{"row":23,"k":"tp","b":10,"t":"♩=102"},{"row":23,"k":"tp","b":11,"t":"♩=102"},{"row":23,"k":"tp","b":12,"t":"♩=102"},{"row":23,"k":"tp","b":13,"t":"♩=101"},{"row":23,"k":"tp","b":14,"t":"♩=102"},{"row":23,"k":"tp","b":15,"t":"♩=102"},
{"row":24,"k":"tp","b":0,"t":"♩=102"},{"row":24,"k":"tp","b":1,"t":"♩=102"},{"row":24,"k":"tp","b":2,"t":"♩=102"},{"row":24,"k":"tp","b":3,"t":"♩=102"},{"row":24,"k":"tp","b":4,"t":"♩=102"},{"row":24,"k":"tp","b":5,"t":"♩=101"},{"row":24,"k":"tp","b":6,"t":"♩=102"},{"row":24,"k":"tp","b":7,"t":"♩=102"},{"row":24,"k":"tp","b":8,"t":"♩=102"},{"row":24,"k":"tp","b":9,"t":"♩=102"},{"row":24,"k":"tp","b":10,"t":"♩=102"},{"row":24,"k":"tp","b":11,"t":"♩=102"},{"row":24,"k":"tp","b":12,"t":"♩=102"},{"row":24,"k":"tp","b":13,"t":"♩=101"},{"row":24,"k":"tp","b":14,"t":"♩=102"},{"row":24,"k":"tp","b":15,"t":"♩=102"},
{"row":25,"k":"tp","b":0,"t":"♩=102"},{"row":25,"k":"tp","b":1,"t":"♩=102"},{"row":25,"k":"tp","b":2,"t":"♩=102"},{"row":25,"k":"tp","b":3,"t":"♩=102"},{"row":25,"k":"tp","b":4,"t":"♩=102"},{"row":25,"k":"tp","b":5,"t":"♩=101"},{"row":25,"k":"tp","b":6,"t":"♩=102"},{"row":25,"k":"tp","b":7,"t":"♩=102"},{"row":25,"k":"tp","b":8,"t":"♩=102"},{"row":25,"k":"tp","b":9,"t":"♩=102"},{"row":25,"k":"tp","b":10,"t":"♩=102"},{"row":25,"k":"tp","b":11,"t":"♩=102"},{"row":25,"k":"tp","b":12,"t":"♩=102"},{"row":25,"k":"tp","b":13,"t":"♩=101"},{"row":25,"k":"tp","b":14,"t":"♩=102"},{"row":25,"k":"tp","b":15,"t":"♩=102"},
{"row":26,"k":"tp","b":0,"t":"♩=102"},{"row":26,"k":"tp","b":1,"t":"♩=102"},{"row":26,"k":"tp","b":2,"t":"♩=102"},{"row":26,"k":"tp","b":3,"t":"♩=102"},{"row":26,"k":"tp","b":4,"t":"♩=102"},{"row":26,"k":"tp","b":5,"t":"♩=101"},{"row":26,"k":"tp","b":6,"t":"♩=102"},{"row":26,"k":"tp","b":7,"t":"♩=102"},{"row":26,"k":"tp","b":8,"t":"♩=102"},{"row":26,"k":"tp","b":9,"t":"♩=102"},{"row":26,"k":"tp","b":10,"t":"♩=102"},{"row":26,"k":"tp","b":11,"t":"♩=102"},{"row":26,"k":"tp","b":12,"t":"♩=102"},{"row":26,"k":"tp","b":13,"t":"♩=101"},{"row":26,"k":"tp","b":14,"t":"♩=102"},{"row":26,"k":"tp","b":15,"t":"♩=102"},
{"row":27,"k":"tp","b":0,"t":"♩=102"},{"row":27,"k":"tp","b":1,"t":"♩=102"},{"row":27,"k":"tp","b":2,"t":"♩=102"},{"row":27,"k":"tp","b":3,"t":"♩=102"},{"row":27,"k":"tp","b":4,"t":"♩=102"},{"row":27,"k":"tp","b":5,"t":"♩=101"},{"row":27,"k":"tp","b":6,"t":"♩=102"},{"row":27,"k":"tp","b":7,"t":"♩=102"},{"row":27,"k":"tp","b":8,"t":"♩=102"},{"row":27,"k":"tp","b":9,"t":"♩=102"},{"row":27,"k":"tp","b":10,"t":"♩=102"},{"row":27,"k":"tp","b":11,"t":"♩=102"},{"row":27,"k":"tp","b":12,"t":"♩=102"},{"row":27,"k":"tp","b":13,"t":"♩=101"},{"row":27,"k":"tp","b":14,"t":"♩=102"},{"row":27,"k":"tp","b":15,"t":"♩=102"},
{"row":28,"k":"tp","b":0,"t":"♩=102"},{"row":28,"k":"tp","b":1,"t":"♩=102"},{"row":28,"k":"tp","b":2,"t":"♩=102"},{"row":28,"k":"tp","b":3,"t":"♩=102"},{"row":28,"k":"tp","b":4,"t":"♩=102"},{"row":28,"k":"tp","b":5,"t":"♩=101"},{"row":28,"k":"tp","b":6,"t":"♩=102"},{"row":28,"k":"tp","b":7,"t":"♩=102"},{"row":28,"k":"tp","b":8,"t":"♩=102"},{"row":28,"k":"tp","b":9,"t":"♩=102"},{"row":28,"k":"tp","b":10,"t":"♩=102"},{"row":28,"k":"tp","b":11,"t":"♩=102"},{"row":28,"k":"tp","b":12,"t":"♩=102"},{"row":28,"k":"tp","b":13,"t":"♩=101"},{"row":28,"k":"tp","b":14,"t":"♩=102"},{"row":28,"k":"tp","b":15,"t":"♩=102"},
{"row":29,"k":"tp","b":0,"t":"♩=102"},{"row":29,"k":"tp","b":1,"t":"♩=102"},{"row":29,"k":"tp","b":2,"t":"♩=102"},{"row":29,"k":"tp","b":3,"t":"♩=102"},{"row":29,"k":"tp","b":4,"t":"♩=102"},{"row":29,"k":"tp","b":5,"t":"♩=101"},{"row":29,"k":"tp","b":6,"t":"♩=102"},{"row":29,"k":"tp","b":7,"t":"♩=102"},{"row":29,"k":"tp","b":8,"t":"♩=102"},{"row":29,"k":"tp","b":9,"t":"♩=102"},{"row":29,"k":"tp","b":10,"t":"♩=102"},{"row":29,"k":"tp","b":11,"t":"♩=102"},{"row":29,"k":"tp","b":12,"t":"♩=102"},{"row":29,"k":"tp","b":13,"t":"♩=101"},{"row":29,"k":"tp","b":14,"t":"♩=102"},{"row":29,"k":"tp","b":15,"t":"♩=102"},
{"row":30,"k":"tp","b":0,"t":"♩=102"},{"row":30,"k":"tp","b":1,"t":"♩=102"},{"row":30,"k":"tp","b":2,"t":"♩=102"},{"row":30,"k":"tp","b":3,"t":"♩=102"},{"row":30,"k":"tp","b":4,"t":"♩=102"},{"row":30,"k":"tp","b":5,"t":"♩=101"},{"row":30,"k":"tp","b":6,"t":"♩=102"},{"row":30,"k":"tp","b":7,"t":"♩=102"},
{"row":1,"k":"n","b":15,"l":0},{"row":1,"k":"n","b":15.5,"l":1},
{"row":2,"k":"n","b":0,"l":3,"e":0.5},{"row":2,"k":"n","b":0.75,"l":3},{"row":2,"k":"n","b":2,"l":2,"e":2.5},{"row":2,"k":"n","b":2.75,"l":2},{"row":2,"k":"n","b":4,"l":1,"e":4.5},{"row":2,"k":"n","b":4.75,"l":1},{"row":2,"k":"n","b":7,"l":0,"e":7.75},{"row":2,"k":"n","b":8,"l":3,"e":8.5},{"row":2,"k":"n","b":8.75,"l":3},{"row":2,"k":"n","b":10,"l":2,"e":10.5},{"row":2,"k":"n","b":10.75,"l":2},{"row":2,"k":"n","b":12,"l":1,"e":12.5},{"row":2,"k":"n","b":12.75,"l":1},{"row":2,"k":"n","b":15,"l":0},{"row":2,"k":"n","b":15.5,"l":1},
{"row":3,"k":"n","s":1,"b":0,"l":3,"e":0.5},{"row":3,"k":"n","s":1,"b":0.75,"l":3},{"row":3,"k":"n","s":1,"b":2,"l":2,"e":2.5},{"row":3,"k":"n","s":1,"b":2.75,"l":2},{"row":3,"k":"n","b":4,"l":1,"e":4.5},{"row":3,"k":"n","b":4.75,"l":1},{"row":3,"k":"n","b":7,"l":0,"e":7.75},{"row":3,"k":"n","b":8,"l":3,"e":8.5},{"row":3,"k":"n","b":8.75,"l":3},{"row":3,"k":"n","b":10,"l":2,"e":10.5},{"row":3,"k":"n","b":10.75,"l":2},{"row":3,"k":"n","b":12,"l":1,"e":12.5},{"row":3,"k":"n","b":12.75,"l":1},{"row":3,"k":"n","b":15,"l":0},{"row":3,"k":"n","b":15.5,"l":1},
{"row":3,"k":"sp","b":0,"e":2.75},
{"row":4,"k":"n","b":0,"l":3,"e":0.5},{"row":4,"k":"n","b":0.75,"l":3},{"row":4,"k":"n","b":2,"l":2,"e":2.5},{"row":4,"k":"n","b":2.75,"l":2},{"row":4,"k":"n","b":4,"l":1,"e":4.5},{"row":4,"k":"n","b":4.75,"l":1},{"row":4,"k":"n","b":7,"l":0,"e":7.75},{"row":4,"k":"n","b":8,"l":3,"e":8.5},{"row":4,"k":"n","b":8.75,"l":3},{"row":4,"k":"n","b":10,"l":2,"e":10.5},{"row":4,"k":"n","b":10.75,"l":2},{"row":4,"k":"n","s":1,"b":12,"l":1,"e":12.5},{"row":4,"k":"n","s":1,"b":12.75,"l":1},{"row":4,"k":"n","s":1,"b":15,"l":0},{"row":4,"k":"n","s":1,"b":15.5,"l":1},
{"row":4,"k":"sp","b":12,"e":15.5},
{"row":5,"k":"n","b":0,"l":3,"e":0.5},{"row":5,"k":"n","b":0.75,"l":3},{"row":5,"k":"n","b":2,"l":2,"e":2.5},{"row":5,"k":"n","b":2.75,"l":2},{"row":5,"k":"n","b":4,"l":1,"e":4.5},{"row":5,"k":"n","b":4.75,"l":1},{"row":5,"k":"n","b":7,"l":0,"e":7.75},{"row":5,"k":"n","b":8,"l":3,"e":8.5},{"row":5,"k":"n","b":8.75,"l":3},{"row":5,"k":"n","b":10,"l":2,"e":10.5},{"row":5,"k":"n","b":10.75,"l":2},{"row":5,"k":"n","b":12,"l":1,"e":12.5},{"row":5,"k":"n","b":12.75,"l":1},{"row":5,"k":"n","b":15,"l":0},{"row":5,"k":"n","b":15.5,"l":1},
{"row":6,"k":"n","b":0,"l":3,"e":0.5},{"row":6,"k":"n","b":0.75,"l":3},{"row":6,"k":"n","b":2,"l":2,"e":2.5},{"row":6,"k":"n","b":2.75,"l":2},{"row":6,"k":"n","b":4,"l":1,"e":4.5},{"row":6,"k":"n","b":4.75,"l":1},{"row":6,"k":"n","b":7,"l":0,"e":7.75},{"row":6,"k":"n","b":8,"l":3,"e":8.5},{"row":6,"k":"n","b":8.75,"l":3},{"row":6,"k":"n","b":10,"l":2,"e":10.5},{"row":6,"k":"n","b":10.75,"l":2},{"row":6,"k":"n","b":12,"l":1,"e":12.5},{"row":6,"k":"n","b":12.75,"l":1},{"row":6,"k":"n","b":15,"l":0},{"row":6,"k":"n","b":15.5,"l":1},
{"row":6,"k":"odm","b":0,"e":0.05},{"row":6,"k":"od","b":0.05,"e":16},{"row":7,"k":"od","b":0,"e":0.05},
{"row":7,"k":"n","s":1,"b":0,"l":3,"e":0.5},{"row":7,"k":"n","s":1,"b":0.75,"l":3},{"row":7,"k":"n","s":1,"b":2,"l":2,"e":2.5},{"row":7,"k":"n","s":1,"b":2.75,"l":2},{"row":7,"k":"n","b":4,"l":1,"e":4.5},{"row":7,"k":"n","b":4.75,"l":1},{"row":7,"k":"n","b":7,"l":0,"e":7.75},{"row":7,"k":"n","b":8,"l":3,"e":8.5},{"row":7,"k":"n","b":8.75,"l":3},{"row":7,"k":"n","b":10,"l":2,"e":10.5},{"row":7,"k":"n","b":10.75,"l":2},{"row":7,"k":"n","b":12,"l":1,"e":12.5},{"row":7,"k":"n","b":12.75,"l":1},{"row":7,"k":"n","b":15,"l":0},{"row":7,"k":"n","b":15.5,"l":1},
{"row":7,"k":"sp","b":0.05,"e":2.75},{"row":7,"k":"odm","b":8,"e":8.05},{"row":7,"k":"od","b":8.05,"e":16},{"row":8,"k":"od","b":0,"e":0.05},
{"row":8,"k":"n","b":0,"l":3,"e":0.5},{"row":8,"k":"n","b":0.75,"l":3},{"row":8,"k":"n","b":2,"l":2,"e":2.5},{"row":8,"k":"n","b":2.75,"l":2},{"row":8,"k":"n","b":4,"l":1,"e":4.5},{"row":8,"k":"n","b":4.75,"l":1},{"row":8,"k":"n","b":7,"l":0,"e":7.75},{"row":8,"k":"n","b":8,"l":3,"e":8.5},{"row":8,"k":"n","b":8.75,"l":3},{"row":8,"k":"n","b":10,"l":2,"e":10.5},{"row":8,"k":"n","b":10.75,"l":2},{"row":8,"k":"n","s":1,"b":12,"l":1,"e":12.5},{"row":8,"k":"n","s":1,"b":12.75,"l":1},{"row":8,"k":"n","s":1,"b":15,"l":0},{"row":8,"k":"n","s":1,"b":15.5,"l":1},
{"row":8,"k":"sp","b":12,"e":15.5},
{"row":9,"k":"n","b":0,"l":3,"e":0.5},{"row":9,"k":"n","b":0.75,"l":3},{"row":9,"k":"n","b":2,"l":2,"e":2.5},{"row":9,"k":"n","b":2.75,"l":2},{"row":9,"k":"n","b":4,"l":1,"e":4.5},{"row":9,"k":"n","b":4.75,"l":1},{"row":9,"k":"n","b":7,"l":0,"e":7.75},{"row":9,"k":"n","b":8,"l":3,"e":8.5},{"row":9,"k":"n","b":8.75,"l":3},{"row":9,"k":"n","b":10,"l":2,"e":10.5},{"row":9,"k":"n","b":10.75,"l":2},{"row":9,"k":"n","b":12,"l":1,"e":12.5},{"row":9,"k":"n","b":12.75,"l":1},{"row":9,"k":"n","b":15,"l":0},{"row":9,"k":"n","b":15.5,"l":1},
{"row":9,"k":"odm","b":8,"e":8.05},{"row":9,"k":"od","b":8.05,"e":16},{"row":10,"k":"od","b":0,"e":0.05},
{"row":10,"k":"n","b":0,"l":3,"e":0.5},{"row":10,"k":"n","b":0.75,"l":3},{"row":10,"k":"n","b":2,"l":2,"e":2.5},{"row":10,"k":"n","b":2.75,"l":2},{"row":10,"k":"n","b":4,"l":1,"e":4.5},{"row":10,"k":"n","b":4.75,"l":1},{"row":10,"k":"n","b":7,"l":0,"e":7.75},{"row":10,"k":"n","b":8,"l":3,"e":8.5},{"row":10,"k":"n","b":8.75,"l":3},{"row":10,"k":"n","b":10,"l":2,"e":10.5},{"row":10,"k":"n","b":10.75,"l":2},{"row":10,"k":"n","b":12,"l":1,"e":12.5},{"row":10,"k":"n","b":12.75,"l":1},{"row":10,"k":"n","b":15,"l":0},{"row":10,"k":"n","b":15.5,"l":1},
{"row":11,"k":"n","s":1,"b":0,"l":3,"e":0.5},{"row":11,"k":"n","s":1,"b":0.75,"l":3},{"row":11,"k":"n","s":1,"b":2,"l":2,"e":2.5},{"row":11,"k":"n","s":1,"b":2.75,"l":2},{"row":11,"k":"n","b":4,"l":1,"e":4.5},{"row":11,"k":"n","b":4.75,"l":1},{"row":11,"k":"n","b":7,"l":0,"e":7.75},{"row":11,"k":"n","b":8,"l":3,"e":8.5},{"row":11,"k":"n","b":8.75,"l":3},{"row":11,"k":"n","b":10,"l":2,"e":10.5},{"row":11,"k":"n","b":10.75,"l":2},{"row":11,"k":"n","b":12,"l":1,"e":12.5},{"row":11,"k":"n","b":12.75,"l":1},{"row":11,"k":"n","b":15,"l":0},{"row":11,"k":"n","b":15.5,"l":1},
{"row":11,"k":"sp","b":0,"e":2.75},{"row":11,"k":"odm","b":8,"e":8.05},{"row":11,"k":"od","b":8.05,"e":16},{"row":12,"k":"od","b":0,"e":0.05},
{"row":12,"k":"n","b":0,"l":3,"e":0.5},{"row":12,"k":"n","b":0.75,"l":3},{"row":12,"k":"n","b":2,"l":2,"e":2.5},{"row":12,"k":"n","b":2.75,"l":2},{"row":12,"k":"n","b":4,"l":1,"e":4.5},{"row":12,"k":"n","b":4.75,"l":1},{"row":12,"k":"n","b":7,"l":0,"e":7.75},{"row":12,"k":"n","b":8,"l":3,"e":8.5},{"row":12,"k":"n","b":8.75,"l":3},{"row":12,"k":"n","b":10,"l":2,"e":10.5},{"row":12,"k":"n","b":10.75,"l":2},{"row":12,"k":"n","s":1,"b":12,"l":1,"e":12.5},{"row":12,"k":"n","s":1,"b":12.75,"l":1},{"row":12,"k":"n","s":1,"b":15,"l":0},{"row":12,"k":"n","s":1,"b":15.5,"l":1},
{"row":12,"k":"sp","b":12,"e":15.5},
{"row":13,"k":"n","b":0,"l":3,"e":0.5},{"row":13,"k":"n","b":0.75,"l":3},{"row":13,"k":"n","b":2,"l":2,"e":2.5},{"row":13,"k":"n","b":2.75,"l":2},{"row":13,"k":"n","b":4,"l":1,"e":4.5},{"row":13,"k":"n","b":4.75,"l":1},{"row":13,"k":"n","b":7,"l":0,"e":7.75},{"row":13,"k":"n","b":8,"l":3,"e":8.5},{"row":13,"k":"n","b":8.75,"l":3},{"row":13,"k":"n","b":10,"l":2,"e":10.5},{"row":13,"k":"n","b":10.75,"l":2},{"row":13,"k":"n","b":12,"l":1,"e":12.5},{"row":13,"k":"n","b":12.75,"l":1},
{"row":14,"k":"n","b":0,"l":3,"e":0.5},{"row":14,"k":"n","b":0.75,"l":3},{"row":14,"k":"n","b":2,"l":2,"e":2.5},{"row":14,"k":"n","b":2.75,"l":2},{"row":14,"k":"n","b":4,"l":1,"e":4.5},{"row":14,"k":"n","b":4.75,"l":1},{"row":14,"k":"n","b":7,"l":0,"e":7.75},{"row":14,"k":"n","b":8,"l":3,"e":8.5},{"row":14,"k":"n","b":8.75,"l":3},{"row":14,"k":"n","b":10,"l":2,"e":10.5},{"row":14,"k":"n","b":10.75,"l":2},{"row":14,"k":"n","b":12,"l":1,"e":12.5},{"row":14,"k":"n","b":12.75,"l":1},{"row":14,"k":"n","b":15,"l":0},{"row":14,"k":"n","b":15.5,"l":1},
{"row":14,"k":"odm","b":8,"e":8.05},{"row":14,"k":"od","b":8.05,"e":16},{"row":15,"k":"od","b":0,"e":0.05},
{"row":15,"k":"n","s":1,"b":0,"l":3,"e":0.5},{"row":15,"k":"n","s":1,"b":0.75,"l":3},{"row":15,"k":"n","s":1,"b":2,"l":2,"e":2.5},{"row":15,"k":"n","s":1,"b":2.75,"l":2},{"row":15,"k":"n","b":4,"l":1,"e":4.5},{"row":15,"k":"n","b":4.75,"l":1},{"row":15,"k":"n","b":7,"l":0,"e":7.75},{"row":15,"k":"n","b":8,"l":3,"e":8.5},{"row":15,"k":"n","b":8.75,"l":3},{"row":15,"k":"n","b":10,"l":2,"e":10.5},{"row":15,"k":"n","b":10.75,"l":2},{"row":15,"k":"n","b":12,"l":1,"e":12.5},{"row":15,"k":"n","b":12.75,"l":1},{"row":15,"k":"n","b":15,"l":0},{"row":15,"k":"n","b":15.5,"l":1},
{"row":15,"k":"sp","b":0.05,"e":2.75},
{"row":16,"k":"n","b":0,"l":3,"e":0.5},{"row":16,"k":"n","b":0.75,"l":3},{"row":16,"k":"n","b":2,"l":2,"e":2.5},{"row":16,"k":"n","b":2.75,"l":2},{"row":16,"k":"n","s":1,"b":4,"l":1,"e":4.5},{"row":16,"k":"n","s":1,"b":4.75,"l":1},{"row":16,"k":"n","s":1,"b":7,"l":0,"e":7.75},{"row":16,"k":"n","b":8,"l":3,"e":8.5},{"row":16,"k":"n","b":8.75,"l":3},{"row":16,"k":"n","b":10,"l":2,"e":10.5},{"row":16,"k":"n","b":10.75,"l":2},{"row":16,"k":"n","b":12,"l":1,"e":12.5},{"row":16,"k":"n","b":12.75,"l":1},{"row":16,"k":"n","b":15,"l":0},{"row":16,"k":"n","b":15.5,"l":1},
{"row":16,"k":"sp","b":4,"e":7.75},
{"row":17,"k":"n","b":0,"l":3,"e":0.5},{"row":17,"k":"n","b":0.75,"l":3},{"row":17,"k":"n","b":2,"l":2,"e":2.5},{"row":17,"k":"n","b":2.75,"l":2},{"row":17,"k":"n","b":4,"l":1,"e":4.5},{"row":17,"k":"n","b":4.75,"l":1},{"row":17,"k":"n","b":7,"l":0,"e":7.75},{"row":17,"k":"n","b":8,"l":3,"e":8.5},{"row":17,"k":"n","b":8.75,"l":3},{"row":17,"k":"n","b":10,"l":2,"e":10.5},{"row":17,"k":"n","b":10.75,"l":2},{"row":17,"k":"n","s":1,"b":12,"l":1,"e":12.5},{"row":17,"k":"n","s":1,"b":12.75,"l":1},{"row":17,"k":"n","s":1,"b":15,"l":0},{"row":17,"k":"n","s":1,"b":15.5,"l":1},
{"row":17,"k":"sp","b":12,"e":15.5},
{"row":18,"k":"n","b":0,"l":3,"e":0.5},{"row":18,"k":"n","b":0.75,"l":3},{"row":18,"k":"n","b":2,"l":2,"e":2.5},{"row":18,"k":"n","b":2.75,"l":2},{"row":18,"k":"n","b":4,"l":1,"e":4.5},{"row":18,"k":"n","b":4.75,"l":1},{"row":18,"k":"n","b":7,"l":0,"e":7.75},
{"row":18,"k":"n","b":8,"l":1,"e":8.5},{"row":18,"k":"n","b":8.75,"l":1},{"row":18,"k":"n","b":9.5,"l":3},{"row":18,"k":"n","b":10,"l":2,"e":10.5},{"row":18,"k":"n","b":10.75,"l":2},{"row":18,"k":"n","b":11.5,"l":0},
{"row":18,"k":"n","b":12,"l":2},{"row":18,"k":"n","b":12.5,"l":3},{"row":18,"k":"n","b":13,"l":2},{"row":18,"k":"n","b":13.5,"l":1},{"row":18,"k":"n","b":14,"l":2},{"row":18,"k":"n","b":14.5,"l":3},{"row":18,"k":"n","b":15,"l":0},{"row":18,"k":"n","b":15.5,"l":4},
{"row":18,"k":"odm","b":8,"e":8.05},{"row":18,"k":"od","b":8.05,"e":16},
{"row":19,"k":"n","b":0,"l":3,"e":0.5},{"row":19,"k":"n","b":0.75,"l":3},{"row":19,"k":"n","b":1.5,"l":2},{"row":19,"k":"n","b":2,"l":1},{"row":19,"k":"n","b":2.5,"l":2},{"row":19,"k":"n","b":3,"l":3},
{"row":19,"k":"n","b":4,"l":1,"e":4.5},{"row":19,"k":"n","b":4.75,"l":1},{"row":19,"k":"n","b":5.5,"l":0},{"row":19,"k":"n","b":6,"l":0},{"row":19,"k":"n","b":6.5,"l":0},{"row":19,"k":"n","b":7,"l":1},
{"row":19,"k":"n","b":8,"l":1,"e":9},{"row":19,"k":"n","b":9.5,"l":2},{"row":19,"k":"n","b":10,"l":3},{"row":19,"k":"n","b":10.5,"l":2},{"row":19,"k":"n","b":11,"l":1},
{"row":19,"k":"n","b":12,"l":2},{"row":19,"k":"n","b":12.75,"l":1},{"row":19,"k":"n","b":13.5,"l":2},{"row":19,"k":"n","b":14,"l":3},{"row":19,"k":"n","b":14.5,"l":2},{"row":19,"k":"n","b":15,"l":0},{"row":19,"k":"n","b":15.5,"l":1},
{"row":19,"k":"od","b":0,"e":16},{"row":20,"k":"od","b":0,"e":0.05},
{"row":20,"k":"n","s":1,"b":0,"l":3,"e":0.5},{"row":20,"k":"n","s":1,"b":0.75,"l":3},{"row":20,"k":"n","s":1,"b":2,"l":2,"e":2.5},{"row":20,"k":"n","s":1,"b":2.75,"l":2},{"row":20,"k":"n","s":1,"b":3.5,"l":1},{"row":20,"k":"n","b":4,"l":1,"e":4.5},{"row":20,"k":"n","b":4.75,"l":1},{"row":20,"k":"n","b":7,"l":0,"e":7.75},{"row":20,"k":"n","b":8,"l":3,"e":8.5},{"row":20,"k":"n","b":8.75,"l":3},{"row":20,"k":"n","b":10,"l":2,"e":10.5},{"row":20,"k":"n","b":10.75,"l":2},{"row":20,"k":"n","b":12,"l":1,"e":12.5},{"row":20,"k":"n","b":12.75,"l":1},{"row":20,"k":"n","b":15,"l":0},{"row":20,"k":"n","b":15.5,"l":1},
{"row":20,"k":"sp","b":0.05,"e":3.5},{"row":20,"k":"odm","b":8,"e":8.05},{"row":20,"k":"od","b":8.05,"e":16},{"row":21,"k":"od","b":0,"e":0.05},
{"row":21,"k":"n","b":0,"l":3,"e":0.5},{"row":21,"k":"n","b":0.75,"l":3},{"row":21,"k":"n","b":2,"l":2,"e":2.5},{"row":21,"k":"n","b":2.75,"l":2},{"row":21,"k":"n","b":4,"l":1,"e":4.5},{"row":21,"k":"n","b":4.75,"l":1},{"row":21,"k":"n","b":7,"l":0,"e":7.75},{"row":21,"k":"n","b":8,"l":3,"e":8.5},{"row":21,"k":"n","b":8.75,"l":3},{"row":21,"k":"n","b":10,"l":2,"e":10.5},{"row":21,"k":"n","b":10.75,"l":2},{"row":21,"k":"n","s":1,"b":12,"l":1,"e":12.5},{"row":21,"k":"n","s":1,"b":12.75,"l":1},{"row":21,"k":"n","s":1,"b":15,"l":0},{"row":21,"k":"n","s":1,"b":15.5,"l":1},
{"row":21,"k":"sp","b":12,"e":15.5},
{"row":22,"k":"n","b":0,"l":3,"e":0.5},{"row":22,"k":"n","b":0.75,"l":3},{"row":22,"k":"n","b":2,"l":2,"e":2.5},{"row":22,"k":"n","b":2.75,"l":2},{"row":22,"k":"n","b":4,"l":1,"e":4.5},{"row":22,"k":"n","b":4.75,"l":1},{"row":22,"k":"n","b":7,"l":0,"e":7.75},{"row":22,"k":"n","b":8,"l":3,"e":8.5},{"row":22,"k":"n","b":8.75,"l":3},{"row":22,"k":"n","b":10,"l":2,"e":10.5},{"row":22,"k":"n","b":10.75,"l":2},{"row":22,"k":"n","b":12,"l":1,"e":12.5},{"row":22,"k":"n","b":12.75,"l":1},{"row":22,"k":"n","b":15,"l":0},{"row":22,"k":"n","b":15.5,"l":1},
{"row":22,"k":"odm","b":8,"e":8.05},{"row":22,"k":"od","b":8.05,"e":16},{"row":23,"k":"od","b":0,"e":0.05},
{"row":23,"k":"n","b":0,"l":3,"e":0.5},{"row":23,"k":"n","b":0.75,"l":3},{"row":23,"k":"n","b":2,"l":2,"e":2.5},{"row":23,"k":"n","b":2.75,"l":2},{"row":23,"k":"n","b":4,"l":1,"e":4.5},{"row":23,"k":"n","b":4.75,"l":1},{"row":23,"k":"n","b":7,"l":0,"e":7.75},{"row":23,"k":"n","b":8,"l":3,"e":8.5},{"row":23,"k":"n","b":8.75,"l":3},{"row":23,"k":"n","b":10,"l":2,"e":10.5},{"row":23,"k":"n","b":10.75,"l":2},{"row":23,"k":"n","b":12,"l":1,"e":12.5},{"row":23,"k":"n","b":12.75,"l":1},{"row":23,"k":"n","b":15,"l":0},{"row":23,"k":"n","b":15.5,"l":1},
{"row":24,"k":"n","s":1,"b":0,"l":3,"e":0.5},{"row":24,"k":"n","s":1,"b":0.75,"l":3},{"row":24,"k":"n","s":1,"b":2,"l":2,"e":2.5},{"row":24,"k":"n","s":1,"b":2.75,"l":2},{"row":24,"k":"n","b":4,"l":1,"e":4.5},{"row":24,"k":"n","b":4.75,"l":1},{"row":24,"k":"n","b":7,"l":0,"e":7.75},{"row":24,"k":"n","b":8,"l":3,"e":8.5},{"row":24,"k":"n","b":8.75,"l":3},{"row":24,"k":"n","b":10,"l":2,"e":10.5},{"row":24,"k":"n","b":10.75,"l":2},{"row":24,"k":"n","b":12,"l":1,"e":12.5},{"row":24,"k":"n","b":12.75,"l":1},{"row":24,"k":"n","b":15,"l":0},{"row":24,"k":"n","b":15.5,"l":1},
{"row":24,"k":"sp","b":0.05,"e":2.75},{"row":24,"k":"odm","b":8,"e":8.05},{"row":24,"k":"od","b":8.05,"e":16},{"row":25,"k":"od","b":0,"e":0.05},
{"row":25,"k":"n","b":0,"l":3,"e":0.5},{"row":25,"k":"n","b":0.75,"l":3},{"row":25,"k":"n","b":2,"l":2,"e":2.5},{"row":25,"k":"n","b":2.75,"l":2},{"row":25,"k":"n","b":4,"l":1,"e":4.5},{"row":25,"k":"n","b":4.75,"l":1},{"row":25,"k":"n","b":7,"l":0,"e":7.75},{"row":25,"k":"n","b":8,"l":3,"e":8.5},{"row":25,"k":"n","b":8.75,"l":3},{"row":25,"k":"n","b":10,"l":2,"e":10.5},{"row":25,"k":"n","b":10.75,"l":2},{"row":25,"k":"n","s":1,"b":12,"l":1,"e":12.5},{"row":25,"k":"n","s":1,"b":12.75,"l":1},{"row":25,"k":"n","s":1,"b":15,"l":0},{"row":25,"k":"n","s":1,"b":15.5,"l":1},
{"row":25,"k":"sp","b":12,"e":15.5},
{"row":26,"k":"n","b":0,"l":3,"e":0.5},{"row":26,"k":"n","b":0.75,"l":3},{"row":26,"k":"n","b":2,"l":2,"e":2.5},{"row":26,"k":"n","b":2.75,"l":2},{"row":26,"k":"n","b":4,"l":1,"e":4.5},{"row":26,"k":"n","b":4.75,"l":1},{"row":26,"k":"n","b":7,"l":0,"e":7.75},{"row":26,"k":"n","b":8,"l":3,"e":8.5},{"row":26,"k":"n","b":8.75,"l":3},{"row":26,"k":"n","b":10,"l":2,"e":10.5},{"row":26,"k":"n","b":10.75,"l":2},{"row":26,"k":"n","b":12,"l":1,"e":12.5},{"row":26,"k":"n","b":12.75,"l":1},{"row":26,"k":"n","b":15,"l":0},{"row":26,"k":"n","b":15.5,"l":1},
{"row":27,"k":"n","b":0,"l":3,"e":0.5},{"row":27,"k":"n","b":0.75,"l":3},{"row":27,"k":"n","b":2,"l":2,"e":2.5},{"row":27,"k":"n","b":2.75,"l":2},{"row":27,"k":"n","b":4,"l":1,"e":4.5},{"row":27,"k":"n","b":4.75,"l":1},{"row":27,"k":"n","b":7,"l":0,"e":7.75},{"row":27,"k":"n","b":8,"l":3,"e":8.5},{"row":27,"k":"n","b":8.75,"l":3},{"row":27,"k":"n","b":10,"l":2,"e":10.5},{"row":27,"k":"n","b":10.75,"l":2},{"row":27,"k":"n","b":12,"l":1,"e":12.5},{"row":27,"k":"n","b":12.75,"l":1},{"row":27,"k":"n","b":15,"l":0},{"row":27,"k":"n","b":15.5,"l":1},
{"row":27,"k":"odm","b":8,"e":8.05},{"row":27,"k":"od","b":8.05,"e":16},{"row":28,"k":"od","b":0,"e":0.05},
{"row":28,"k":"n","b":0,"l":3,"e":0.5},{"row":28,"k":"n","b":0.75,"l":3},{"row":28,"k":"n","b":2,"l":2,"e":2.5},{"row":28,"k":"n","b":2.75,"l":2},{"row":28,"k":"n","b":4,"l":1,"e":4.5},{"row":28,"k":"n","b":4.75,"l":1},{"row":28,"k":"n","b":7,"l":0,"e":7.75},{"row":28,"k":"n","b":8,"l":3,"e":8.5},{"row":28,"k":"n","b":8.75,"l":3},{"row":28,"k":"n","b":10,"l":2,"e":10.5},{"row":28,"k":"n","b":10.75,"l":2},{"row":28,"k":"n","b":12,"l":1,"e":12.5},{"row":28,"k":"n","b":12.75,"l":1},{"row":28,"k":"n","b":15,"l":0},{"row":28,"k":"n","b":15.5,"l":1},
{"row":29,"k":"n","b":0,"l":3,"e":0.5},{"row":29,"k":"n","b":0.75,"l":3},{"row":29,"k":"n","b":2,"l":2,"e":2.5},{"row":29,"k":"n","b":2.75,"l":2},{"row":29,"k":"n","b":4,"l":1,"e":4.5},{"row":29,"k":"n","b":4.75,"l":1},{"row":29,"k":"n","b":7,"l":0,"e":7.75},{"row":29,"k":"n","b":8,"l":3,"e":8.5},{"row":29,"k":"n","b":8.75,"l":3},{"row":29,"k":"n","b":10,"l":2,"e":10.5},{"row":29,"k":"n","b":10.75,"l":2},{"row":29,"k":"n","b":12,"l":1,"e":12.5},{"row":29,"k":"n","b":12.75,"l":1},{"row":29,"k":"n","b":15,"l":0},{"row":29,"k":"n","b":15.5,"l":1},
{"row":30,"k":"n","b":0,"l":3,"e":0.5},{"row":30,"k":"n","b":0.75,"l":3},{"row":30,"k":"n","b":2,"l":2,"e":2.5},{"row":30,"k":"n","b":2.75,"l":2},{"row":30,"k":"n","b":4,"l":1,"e":4.5},{"row":30,"k":"n","b":4.75,"l":1}
]},
"encoding":{
 "x":{"field":"b","type":"quantitative","scale":{"domain":[0,16],"range":[0,812.813],"nice":false,"zero":false},"axis":null},
 "y":{"field":"row","type":"quantitative","scale":{"domain":[1,30],"range":[0,3781.28],"nice":false,"zero":false},"axis":null}
},
"layer":[
{"transform":[{"filter":"datum.k==='title' && datum.ln===0"}],"mark":{"type":"text","align":"left","baseline":"alphabetic","fontSize":16.5,"color":"#000000","yOffset":-143.34},"encoding":{"text":{"field":"t"}}},
{"transform":[{"filter":"datum.k==='title' && datum.ln===1"}],"mark":{"type":"text","align":"left","baseline":"alphabetic","fontSize":16.5,"color":"#000000","yOffset":-123.87},"encoding":{"text":{"field":"t"}}},
{"transform":[{"filter":"datum.k==='title' && datum.ln===2"}],"mark":{"type":"text","align":"left","baseline":"alphabetic","fontSize":16.5,"color":"#000000","yOffset":-104.4},"encoding":{"text":{"field":"t"}}},
{"transform":[{"filter":"datum.k==='title' && datum.ln===3"}],"mark":{"type":"text","align":"left","baseline":"alphabetic","fontSize":16.5,"color":"#000000","yOffset":-84.93},"encoding":{"text":{"field":"t"}}},
{"transform":[{"filter":"datum.k==='title' && datum.ln===4"}],"mark":{"type":"text","align":"left","baseline":"alphabetic","fontSize":16.5,"color":"#000000","yOffset":-65.46,"xOffset":-1.5},"encoding":{"text":{"field":"t"}}},
{"transform":[{"filter":"datum.k==='m'"}],"mark":{"type":"rule","color":"#dcdcdc","strokeWidth":1,"xOffset":25.4,"y2Offset":51.647},"encoding":{"y2":{"field":"row"}}},
{"transform":[{"filter":"datum.k==='m'"}],"mark":{"type":"rule","color":"#dcdcdc","strokeWidth":1,"xOffset":76.2,"y2Offset":51.647},"encoding":{"y2":{"field":"row"}}},
{"transform":[{"filter":"datum.k==='m'"}],"mark":{"type":"rule","color":"#dcdcdc","strokeWidth":1,"xOffset":127.0,"y2Offset":51.647},"encoding":{"y2":{"field":"row"}}},
{"transform":[{"filter":"datum.k==='m'"}],"mark":{"type":"rule","color":"#dcdcdc","strokeWidth":1,"xOffset":177.8,"y2Offset":51.647},"encoding":{"y2":{"field":"row"}}},
{"transform":[{"filter":"datum.k==='m'"}],"mark":{"type":"rule","color":"#a0a0a0","strokeWidth":1,"xOffset":50.8,"y2Offset":51.647},"encoding":{"y2":{"field":"row"}}},
{"transform":[{"filter":"datum.k==='m'"}],"mark":{"type":"rule","color":"#a0a0a0","strokeWidth":1,"xOffset":101.6,"y2Offset":51.647},"encoding":{"y2":{"field":"row"}}},
{"transform":[{"filter":"datum.k==='m'"}],"mark":{"type":"rule","color":"#a0a0a0","strokeWidth":1,"xOffset":152.4,"y2Offset":51.647},"encoding":{"y2":{"field":"row"}}},
{"transform":[{"filter":"datum.k==='m'"}],"mark":{"type":"rule","color":"#a0a0a0","strokeWidth":1,"yOffset":12.912},"encoding":{"x2":{"field":"e"}}},
{"transform":[{"filter":"datum.k==='m'"}],"mark":{"type":"rule","color":"#a0a0a0","strokeWidth":1,"yOffset":25.824},"encoding":{"x2":{"field":"e"}}},
{"transform":[{"filter":"datum.k==='m'"}],"mark":{"type":"rule","color":"#a0a0a0","strokeWidth":1,"yOffset":38.735},"encoding":{"x2":{"field":"e"}}},
{"transform":[{"filter":"datum.k==='m'"}],"mark":{"type":"rule","color":"#000000","strokeWidth":1,"y2Offset":51.647},"encoding":{"y2":{"field":"row"}}},
{"transform":[{"filter":"datum.k==='m'"}],"mark":{"type":"rule","color":"#000000","strokeWidth":1,"y2Offset":51.647},"encoding":{"x":{"field":"e","type":"quantitative"},"y2":{"field":"row"}}},
{"transform":[{"filter":"datum.k==='m'"}],"mark":{"type":"rule","color":"#000000","strokeWidth":1},"encoding":{"x2":{"field":"e"}}},
{"transform":[{"filter":"datum.k==='m'"}],"mark":{"type":"rule","color":"#000000","strokeWidth":1,"yOffset":51.647},"encoding":{"x2":{"field":"e"}}},
{"transform":[{"filter":"datum.k==='ts'"}],"mark":{"type":"text","align":"center","baseline":"middle","fontSize":27,"fontWeight":"bold","color":"#a0a0a0","xOffset":11,"yOffset":13.2},"encoding":{"text":{"field":"t"}}},
{"transform":[{"filter":"datum.k==='ts'"}],"mark":{"type":"text","align":"center","baseline":"middle","fontSize":27,"fontWeight":"bold","color":"#a0a0a0","xOffset":11,"yOffset":38.6},"encoding":{"text":{"field":"t"}}},
{"transform":[{"filter":"datum.k==='n' && datum.l===0 && isValid(datum.e)"}],"mark":{"type":"rule","color":"#00ff00","strokeWidth":5.9,"strokeCap":"butt"},"encoding":{"x2":{"field":"e"}}},
{"transform":[{"filter":"datum.k==='n' && datum.l===1 && isValid(datum.e)"}],"mark":{"type":"rule","color":"#ff0000","strokeWidth":5.9,"strokeCap":"butt","yOffset":12.912},"encoding":{"x2":{"field":"e"}}},
{"transform":[{"filter":"datum.k==='n' && datum.l===2 && isValid(datum.e)"}],"mark":{"type":"rule","color":"#ffff00","strokeWidth":5.9,"strokeCap":"butt","yOffset":25.824},"encoding":{"x2":{"field":"e"}}},
{"transform":[{"filter":"datum.k==='n' && datum.l===3 && isValid(datum.e)"}],"mark":{"type":"rule","color":"#0000ff","strokeWidth":5.9,"strokeCap":"butt","yOffset":38.735},"encoding":{"x2":{"field":"e"}}},
{"transform":[{"filter":"datum.k==='n' && datum.l===0 && !datum.s"}],"mark":{"type":"point","shape":"circle","filled":true,"size":60,"fill":"#00ff00","stroke":"#000000","strokeWidth":0.85,"opacity":1}},
{"transform":[{"filter":"datum.k==='n' && datum.l===1 && !datum.s"}],"mark":{"type":"point","shape":"circle","filled":true,"size":60,"fill":"#ff0000","stroke":"#000000","strokeWidth":0.85,"opacity":1,"yOffset":12.912}},
{"transform":[{"filter":"datum.k==='n' && datum.l===2 && !datum.s"}],"mark":{"type":"point","shape":"circle","filled":true,"size":60,"fill":"#ffff00","stroke":"#000000","strokeWidth":0.85,"opacity":1,"yOffset":25.824}},
{"transform":[{"filter":"datum.k==='n' && datum.l===3 && !datum.s"}],"mark":{"type":"point","shape":"circle","filled":true,"size":60,"fill":"#0000ff","stroke":"#000000","strokeWidth":0.85,"opacity":1,"yOffset":38.735}},
{"transform":[{"filter":"datum.k==='n' && datum.l===4 && !datum.s"}],"mark":{"type":"point","shape":"circle","filled":true,"size":60,"fill":"#ff8000","stroke":"#000000","strokeWidth":0.85,"opacity":1,"yOffset":51.647}},
{"transform":[{"filter":"datum.k==='n' && datum.l===0 && datum.s"}],"mark":{"type":"point","shape":"M0,-1L0.247,-0.34L0.951,-0.309L0.399,0.13L0.588,0.809L0,0.42L-0.588,0.809L-0.399,0.13L-0.951,-0.309L-0.247,-0.34Z","filled":true,"size":95,"fill":"#00ff00","stroke":"#000000","strokeWidth":0.85,"opacity":1}},
{"transform":[{"filter":"datum.k==='n' && datum.l===1 && datum.s"}],"mark":{"type":"point","shape":"M0,-1L0.247,-0.34L0.951,-0.309L0.399,0.13L0.588,0.809L0,0.42L-0.588,0.809L-0.399,0.13L-0.951,-0.309L-0.247,-0.34Z","filled":true,"size":95,"fill":"#ff0000","stroke":"#000000","strokeWidth":0.85,"opacity":1,"yOffset":12.912}},
{"transform":[{"filter":"datum.k==='n' && datum.l===2 && datum.s"}],"mark":{"type":"point","shape":"M0,-1L0.247,-0.34L0.951,-0.309L0.399,0.13L0.588,0.809L0,0.42L-0.588,0.809L-0.399,0.13L-0.951,-0.309L-0.247,-0.34Z","filled":true,"size":95,"fill":"#ffff00","stroke":"#000000","strokeWidth":0.85,"opacity":1,"yOffset":25.824}},
{"transform":[{"filter":"datum.k==='n' && datum.l===3 && datum.s"}],"mark":{"type":"point","shape":"M0,-1L0.247,-0.34L0.951,-0.309L0.399,0.13L0.588,0.809L0,0.42L-0.588,0.809L-0.399,0.13L-0.951,-0.309L-0.247,-0.34Z","filled":true,"size":95,"fill":"#0000ff","stroke":"#000000","strokeWidth":0.85,"opacity":1,"yOffset":38.735}},
{"transform":[{"filter":"datum.k==='sp'"}],"mark":{"type":"rect","fill":"#00ff00","opacity":0.333,"y2Offset":51.647},"encoding":{"x2":{"field":"e"},"y2":{"field":"row"}}},
{"transform":[{"filter":"datum.k==='od'"}],"mark":{"type":"rect","fill":"#0000ff","opacity":0.333,"y2Offset":51.647},"encoding":{"x2":{"field":"e"},"y2":{"field":"row"}}},
{"transform":[{"filter":"datum.k==='odm'"}],"mark":{"type":"rect","fill":"#ff0000","opacity":0.333,"y2Offset":51.647},"encoding":{"x2":{"field":"e"},"y2":{"field":"row"}}},
{"transform":[{"filter":"datum.k==='m'"}],"mark":{"type":"text","align":"left","baseline":"middle","fontSize":10,"color":"#990000","yOffset":-9.57},"encoding":{"text":{"field":"n"}}},
{"transform":[{"filter":"datum.k==='m'"}],"mark":{"type":"text","align":"right","baseline":"middle","fontSize":9.3,"color":"#a0a0a0","dx":-1,"yOffset":61.55},"encoding":{"x":{"field":"e","type":"quantitative"},"text":{"field":"s1"}}},
{"transform":[{"filter":"datum.k==='m'"}],"mark":{"type":"text","align":"right","baseline":"middle","fontSize":9.3,"color":"#006400","dx":-1,"yOffset":72.56},"encoding":{"x":{"field":"e","type":"quantitative"},"text":{"field":"s2"}}},
{"transform":[{"filter":"datum.k==='m'"}],"mark":{"type":"text","align":"right","baseline":"middle","fontSize":9.3,"color":"#009c9c","dx":-1,"yOffset":83.31},"encoding":{"x":{"field":"e","type":"quantitative"},"text":{"field":"s3"}}},
{"transform":[{"filter":"datum.k==='tp'"}],"mark":{"type":"text","align":"left","baseline":"middle","fontSize":9.2,"color":"#a0a0a0","yOffset":-31.58},"encoding":{"text":{"field":"t"}}}
]
}
